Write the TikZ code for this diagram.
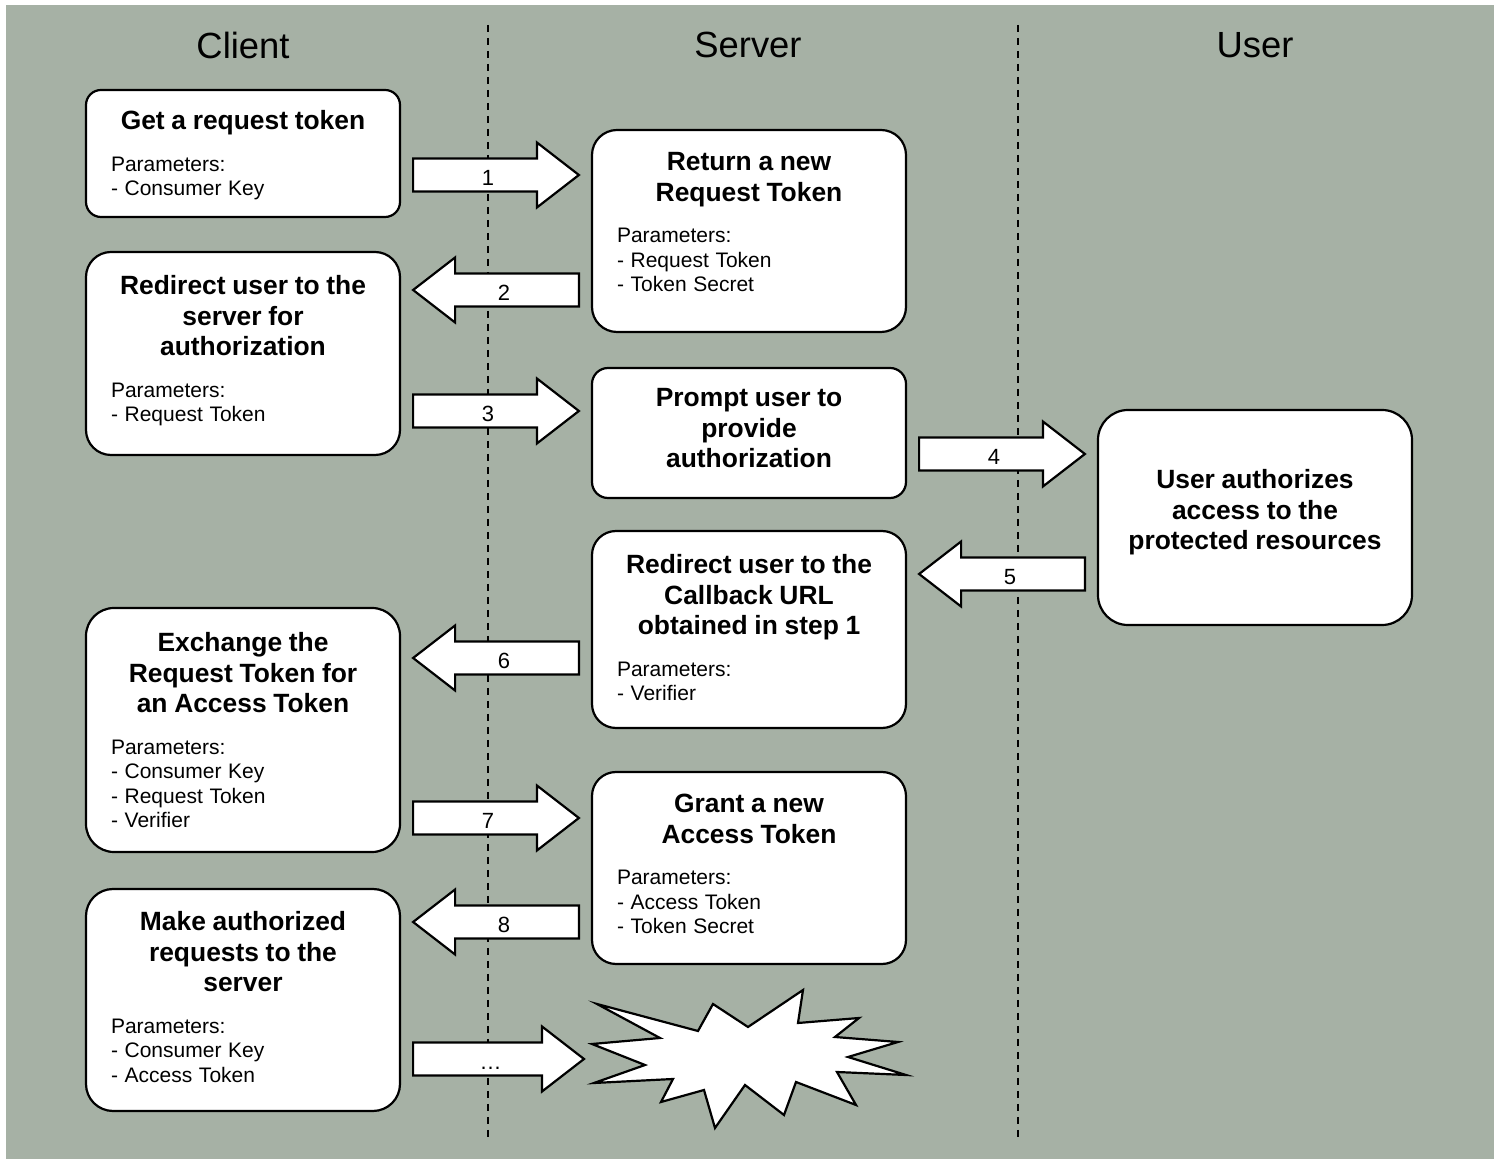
\documentclass[tikz,border=0pt]{standalone}
\usepackage{fontspec}
\setmainfont{Liberation Sans}
\usepackage{tikz}
\usetikzlibrary{
    calc
}
\definecolor{lanebg}{RGB}{166,177,165}
\tikzset{
    lanetitle/.style={
        font=\fontsize{18.2pt}{20pt}\selectfont,
        inner sep=0pt
    }
}
\tikzset{
    lane/.style={
        draw=black,
        line width=1pt,
        dash pattern=on 3.5pt off 3pt
    }
}
\tikzset{
    stepbox/.style={
        draw=black,
        fill=white,
        line width=1.1pt,
        minimum width=157pt,
        inner sep=0pt
    }
}
\tikzset{
    steptext/.style={
        anchor=north,
        text width=132pt,
        inner sep=0pt
    }
}
\tikzset{
    blockarrow/.style={
        draw=black,
        fill=white,
        line width=1.1pt,
        line join=miter
    }
}
\tikzset{
    steplabel/.style={
        anchor=base,
        inner sep=0pt,
        font=\fontsize{11pt}{13pt}\selectfont
    }
}
\newcommand{\stephead}[1]{{\centering\bfseries\fontsize{13.2pt}{15.3pt}\selectfont #1\par}}
\newcommand{\stepparams}[1]{\vspace{8.5pt}{\raggedright\fontsize{10.5pt}{12.25pt}\selectfont #1\par}}
% block arrow to the right: from node, to node, y, label
\newcommand{\arrowright}[4]{%
    \draw[blockarrow] ($(#1.east |- 0,#3)+(12,-16.5)$) -- ($(#2.west |- 0,#3)+(-54,-16.5)$)
        -- ++(0,-16) -- ($(#2.west |- 0,#3)+(-12,0)$) -- ($(#2.west |- 0,#3)+(-54,32.5)$)
        -- ++(0,-16) -- ($(#1.east |- 0,#3)+(12,16.5)$) -- cycle;
    \node[steplabel] at ($(#1.east |- 0,#3)!0.5!(#2.west |- 0,#3)+(-8,11)$) {#4};
}
% block arrow to the left: from node, to node, y, label
\newcommand{\arrowleft}[4]{%
    \draw[blockarrow] ($(#1.west |- 0,#3)+(-12,-16.5)$) -- ($(#2.east |- 0,#3)+(54,-16.5)$)
        -- ++(0,-16) -- ($(#2.east |- 0,#3)+(12,0)$) -- ($(#2.east |- 0,#3)+(54,32.5)$)
        -- ++(0,-16) -- ($(#1.west |- 0,#3)+(-12,16.5)$) -- cycle;
    \node[steplabel] at ($(#1.west |- 0,#3)!0.5!(#2.east |- 0,#3)+(8,11)$) {#4};
}

\begin{document}
\begin{tikzpicture}[
    x=0.5pt,
    y=-0.5pt
]

\useasboundingbox (0,0) rectangle (1501,1159);
\fill[white] (0,0) rectangle (1501,1159);
\fill[lanebg] (6,5) rectangle (1494,1159);

% ------------------------------------------------------------
% Lanes
% ------------------------------------------------------------

\node[lanetitle] (client) at (243,45) {Client};
\node[lanetitle] (server) at (748,45) {Server};
\node[lanetitle] (user) at (1255,45) {User};

\foreach \x in {488,1018} {
    \draw[lane] (\x,25) -- (\x,1140);
}

% ------------------------------------------------------------
% Client steps
% ------------------------------------------------------------

\node[stepbox, minimum height=63.5pt, rounded corners=7.5pt] (getreq) at (243,153.5) {};
\node[steptext] (getreq-text) at (243,110)
    {\stephead{Get a request token}\stepparams{Parameters:\\- Consumer Key}};

\node[stepbox, minimum height=101.5pt, rounded corners=12.5pt] (redirect) at (243,353.5) {};
\node[steptext] (redirect-text) at (243,275)
    {\stephead{Redirect user to the\\server for\\authorization}\stepparams{Parameters:\\- Request Token}};

\node[stepbox, minimum height=122pt, rounded corners=14pt] (exchange) at (243,730) {};
\node[steptext] (exchange-text) at (243,632)
    {\stephead{Exchange the\\Request Token for\\an Access Token}\stepparams{Parameters:\\- Consumer Key\\- Request Token\\- Verifier}};

\node[stepbox, minimum height=111pt, rounded corners=13.5pt] (requests) at (243,1000) {};
\node[steptext] (requests-text) at (243,911)
    {\stephead{Make authorized\\requests to the\\server}\stepparams{Parameters:\\- Consumer Key\\- Access Token}};

% ------------------------------------------------------------
% Server steps
% ------------------------------------------------------------

\node[stepbox, minimum height=101pt, rounded corners=12.5pt] (newreq) at (749,231) {};
\node[steptext] (newreq-text) at (749,152)
    {\stephead{Return a new\\Request Token}\stepparams{Parameters:\\- Request Token\\- Token Secret}};

\node[stepbox, minimum height=65pt, rounded corners=8pt] (prompt) at (749,433) {};
\node[steptext] (prompt-text) at (749,388)
    {\stephead{Prompt user to\\provide\\authorization}};

\node[stepbox, minimum height=98.5pt, rounded corners=12pt] (callback) at (749,629.5) {};
\node[steptext] (callback-text) at (749,554)
    {\stephead{Redirect user to the\\Callback URL\\obtained in step 1}\stepparams{Parameters:\\- Verifier}};

\node[stepbox, minimum height=96pt, rounded corners=12pt] (grant) at (749,868) {};
\node[steptext] (grant-text) at (749,794)
    {\stephead{Grant a new\\Access Token}\stepparams{Parameters:\\- Access Token\\- Token Secret}};

% starburst
\draw[blockarrow] (597,1004) -- (698,1031) -- (713,1004) -- (748,1027) -- (803,990)
    -- (798,1023) -- (859,1018) -- (835,1037) -- (898,1042) -- (848,1057) -- (906,1075)
    -- (837,1072) -- (856,1105) -- (796,1082) -- (784,1115) -- (745,1085) -- (715,1128)
    -- (704,1090) -- (661,1102) -- (673,1079) -- (594,1083) -- (645,1065) -- (592,1044)
    -- (660,1038) -- cycle;
\coordinate (burst) at (596,1059);

% ------------------------------------------------------------
% User step
% ------------------------------------------------------------

\node[stepbox, minimum height=107.5pt, rounded corners=15pt] (authorize) at (1255,517.5) {};
\node[steptext] (authorize-text) at (1255,469)
    {\stephead{User authorizes\\access to the\\protected resources}};

% ------------------------------------------------------------
% Messages
% ------------------------------------------------------------

\arrowright{getreq}{newreq}{175}{1}
\arrowleft{newreq}{redirect}{290}{2}
\arrowright{redirect}{prompt}{411}{3}
\arrowright{prompt}{authorize}{454}{4}
\arrowleft{authorize}{callback}{574}{5}
\arrowleft{callback}{exchange}{658}{6}
\arrowright{exchange}{grant}{818}{7}
\arrowleft{grant}{requests}{922}{8}
\arrowright{requests}{burst}{1059}{\ldots}

\end{tikzpicture}
\end{document}
